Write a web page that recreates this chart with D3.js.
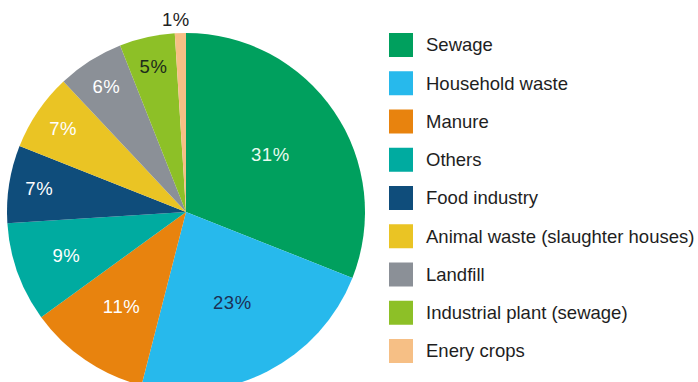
<!doctype html>
<html>
  <head>
    <meta charset="UTF-8">
    <script src="https://cdnjs.cloudflare.com/ajax/libs/d3/7.8.5/d3.min.js"></script>
    <style>
      body { margin: 0; background: #fff; }
      text { font-family: "Liberation Sans", Arial, sans-serif; }
    </style>
  </head>
  <body>
    <div id="graphic"></div>
    <script>

// data
var categories = ["Sewage", "Household waste", "Manure", "Others", "Food industry",
                  "Animal waste (slaughter houses)", "Landfill", "Industrial plant (sewage)", "Enery crops"];
var shares = [31, 23, 11, 9, 7, 7, 6, 5, 1];
var colors = ["#00a05e", "#27b9ec", "#e8830e", "#00aba0", "#0f4d7b",
              "#eac424", "#8b9097", "#8dc027", "#f6bf85"];
var labelColors = ["#eafaf0", "#1c2f55", "#fff", "#fff", "#fff", "#fff", "#fff", "#1b2b1b", "#222"];

var width = 698, height = 382;
var cx = 186, cy = 212, radius = 179;

var svg = d3.select("#graphic").append("svg")
  .attr("width", width)
  .attr("height", height);

var data = categories.map((c, i) => ({name: c, value: shares[i], color: colors[i], label: labelColors[i]}));

var pie = d3.pie().value(d => d.value).sort(null);
var arc = d3.arc().innerRadius(0).outerRadius(radius);
var arcs = pie(data);

var g = svg.append("g")
  .attr("transform", "translate(" + cx + "," + cy + ")");

g.selectAll("path")
  .data(arcs)
  .enter()
  .append("path")
    .attr("d", arc)
    .style("fill", d => d.data.color);

// small slices get their labels further out
var labelR = d3.scaleLinear().domain([7, 9, 11, 23]).range([0.83, 0.71, 0.64, 0.57]).clamp(true);

g.selectAll(".lbl")
  .data(arcs)
  .enter()
  .append("text")
    .attr("class", "lbl")
    .attr("transform", d => {
      var a = (d.startAngle + d.endAngle) / 2;
      var r = d.data.value < 2 ? radius + 14 : radius * labelR(d.data.value);
      var dx = d.data.value < 2 ? -4 : 0;
      return "translate(" + (Math.sin(a) * r + dx) + "," + (-Math.cos(a) * r) + ")";
    })
    .attr("text-anchor", "middle")
    .attr("dy", "0.35em")
    .style("font-size", "18.5px")
    .style("letter-spacing", "0.6px")
    .style("fill", d => d.data.label)
    .text(d => d.data.value + "%");

// legend
var legendY = d3.scaleLinear().domain([0, categories.length - 1]).range([33, 339]);

var legend = svg.append("g")
  .selectAll("g")
  .data(data)
  .enter()
  .append("g")
    .attr("transform", (d, i) => "translate(389," + legendY(i) + ")");

legend.append("rect")
  .attr("width", 24)
  .attr("height", 24)
  .style("fill", d => d.color);

legend.append("text")
  .attr("x", 37)
  .attr("y", 12)
  .attr("dy", "0.35em")
  .style("font-size", "18.5px")
  .style("fill", "#1e1e1e")
  .text(d => d.name);

    </script>
  </body>
</html>
